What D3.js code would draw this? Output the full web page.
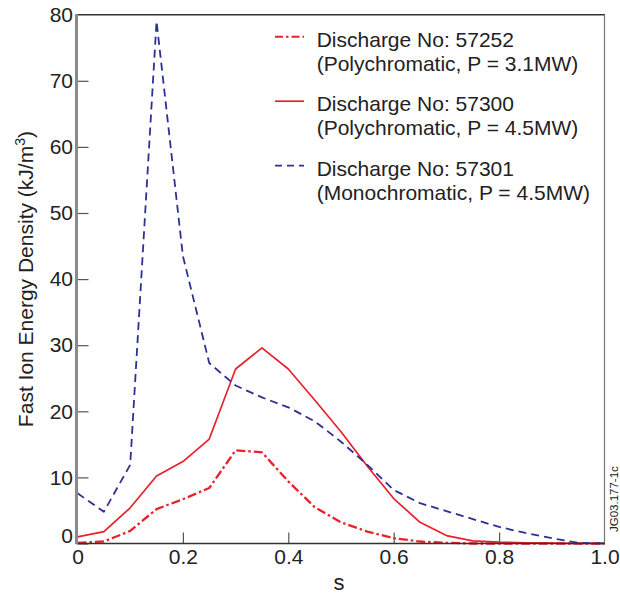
<!DOCTYPE html>
<html>
<head>
<meta charset="utf-8">
<script src="https://cdn.jsdelivr.net/npm/d3@7"></script>
<style>
  html, body { margin: 0; padding: 0; background: #fff; }
  svg { display: block; font-family: "Liberation Sans", Arial, Helvetica, sans-serif; }
</style>
</head>
<body>
<svg id="chart" width="620" height="595"></svg>
<script>
// ---- data ----
const sValues = [0, 0.05, 0.1, 0.15, 0.2, 0.25, 0.3, 0.35, 0.4, 0.45, 0.5, 0.55, 0.6, 0.65, 0.7, 0.75, 0.8, 0.85, 0.9, 0.95, 1.0];
const d57252 = [0.1, 0.3, 1.9, 5.2, 6.7, 8.4, 14.1, 13.8, 9.4, 5.5, 3.2, 1.8, 0.8, 0.3, 0.1, 0, 0, 0, 0, 0, 0];
const d57300 = [1.0, 1.8, 5.4, 10.2, 12.4, 15.8, 26.4, 29.6, 26.4, 21.7, 16.9, 11.7, 6.8, 3.2, 1.2, 0.4, 0.2, 0.1, 0.05, 0, 0];
const d57301 = [7.6, 4.8, 11.9, 79.0, 43.5, 27.3, 23.9, 22.1, 20.6, 18.5, 15.4, 11.9, 8.1, 6.1, 4.9, 3.7, 2.5, 1.6, 0.8, 0.1, 0];
const seriesNames = ["Discharge No: 57252", "Discharge No: 57300", "Discharge No: 57301"];
const seriesDetails = ["(Polychromatic, P = 3.1MW)", "(Polychromatic, P = 4.5MW)", "(Monochromatic, P = 4.5MW)"];
const xTicks = [0, 0.2, 0.4, 0.6, 0.8, 1.0];
const xTickLabels = ["0", "0.2", "0.4", "0.6", "0.8", "1.0"];
const yTicks = [0, 10, 20, 30, 40, 50, 60, 70, 80];
const xTitle = "s";
const yTitle = "Fast Ion Energy Density (kJ/m";
const figId = "JG03.177-1c";

// ---- styles ----
const RED = "#e8212b", BLUE = "#2e3192";
const styles = [
  { color: RED, width: 2.3, dash: "9,3,2.5,3" },
  { color: RED, width: 1.7, dash: null },
  { color: BLUE, width: 1.8, dash: "8,5" }
];
const seriesData = [d57252, d57300, d57301];

const svg = d3.select("#chart");
const x0 = 77.5, x1 = 604.5, yTop = 14.7, yBot = 543.5;
const x = d3.scaleLinear().domain([0, 1]).range([x0, x1]);
const y = d3.scaleLinear().domain([0, 80]).range([yBot, yTop]);

// axes
const gx = svg.append("g").attr("transform", `translate(0,${yBot})`)
  .call(d3.axisBottom(x).tickValues(xTicks).tickFormat((d, i) => xTickLabels[i]).tickSize(-11).tickPadding(5.6));
const gy = svg.append("g").attr("transform", `translate(${x0},0)`)
  .call(d3.axisLeft(y).tickValues(yTicks).tickFormat(d3.format("d")).tickSize(-11).tickPadding(4.5));
[gx, gy].forEach(g => {
  g.select(".domain").remove();
  g.selectAll(".tick line").attr("stroke", "#555").attr("stroke-width", 1.2);
  g.selectAll(".tick text").attr("font-size", 21).attr("fill", "#222").attr("font-family", "Liberation Sans, Arial, sans-serif");
});
gy.selectAll(".tick").filter(d => d === 0).select("text").attr("dy", "-0.05em");
gx.selectAll(".tick").filter(d => d === 0 || d === 1).select("line").remove();
gy.selectAll(".tick").filter(d => d === 80).select("line").remove();

// lines
const line = d3.line().x((d, i) => x(sValues[i])).y(d => y(d));
seriesData.forEach((data, k) => {
  const st = styles[k];
  svg.append("path").datum(data).attr("d", line)
    .attr("fill", "none").attr("stroke", st.color).attr("stroke-width", st.width)
    .attr("stroke-dasharray", st.dash).attr("stroke-linejoin", "round");
});

// frame
svg.append("line").attr("x1", x0).attr("x2", x1 + 0.5).attr("y1", yTop).attr("y2", yTop).attr("stroke", "#333").attr("stroke-width", 1.6);
svg.append("line").attr("x1", x1).attr("x2", x1).attr("y1", yTop).attr("y2", yBot).attr("stroke", "#777").attr("stroke-width", 1.2);
svg.append("line").attr("x1", x0).attr("x2", x1 + 0.5).attr("y1", yBot).attr("y2", yBot).attr("stroke", "#333").attr("stroke-width", 1.5);
svg.append("line").attr("x1", x0 - 1).attr("x2", x0 - 1).attr("y1", yTop - 0.8).attr("y2", yBot + 0.8).attr("stroke", "#8a8a8a").attr("stroke-width", 3);

// titles
svg.append("text").attr("x", x(0.5) - 2).attr("y", 590).attr("text-anchor", "middle")
  .attr("font-size", 22).attr("fill", "#222").text(xTitle);
const yt = svg.append("text").attr("transform", `translate(32.7,${(yTop + yBot) / 2}) rotate(-90)`)
  .attr("text-anchor", "middle").attr("font-size", 21).attr("fill", "#222");
yt.append("tspan").text(yTitle);
yt.append("tspan").attr("font-size", 14).attr("dy", "-0.55em").text("3");
yt.append("tspan").attr("dy", "0.37em").text(")");

// legend
const legBase = [46.7, 111.2, 175.7];
seriesNames.forEach((name, k) => {
  const st = styles[k];
  const b = legBase[k];
  svg.append("line").attr("x1", 275).attr("x2", 304).attr("y1", b - 10).attr("y2", b - 10)
    .attr("stroke", st.color).attr("stroke-width", st.width === 2.3 ? 2 : st.width)
    .attr("stroke-dasharray", k === 0 ? "8,3,2.5,3" : (k === 2 ? "7,5" : null));
  svg.append("text").attr("x", 316.7).attr("y", b).attr("font-size", 21).attr("fill", "#222").text(name);
  svg.append("text").attr("x", 316.7).attr("y", b + 23.8).attr("font-size", 21).attr("fill", "#222").text(seriesDetails[k]);
});

// figure id
svg.append("text").attr("transform", "translate(617.5,532) rotate(-90)")
  .attr("font-size", 11.5).attr("fill", "#222").text(figId);
</script>
</body>
</html>
